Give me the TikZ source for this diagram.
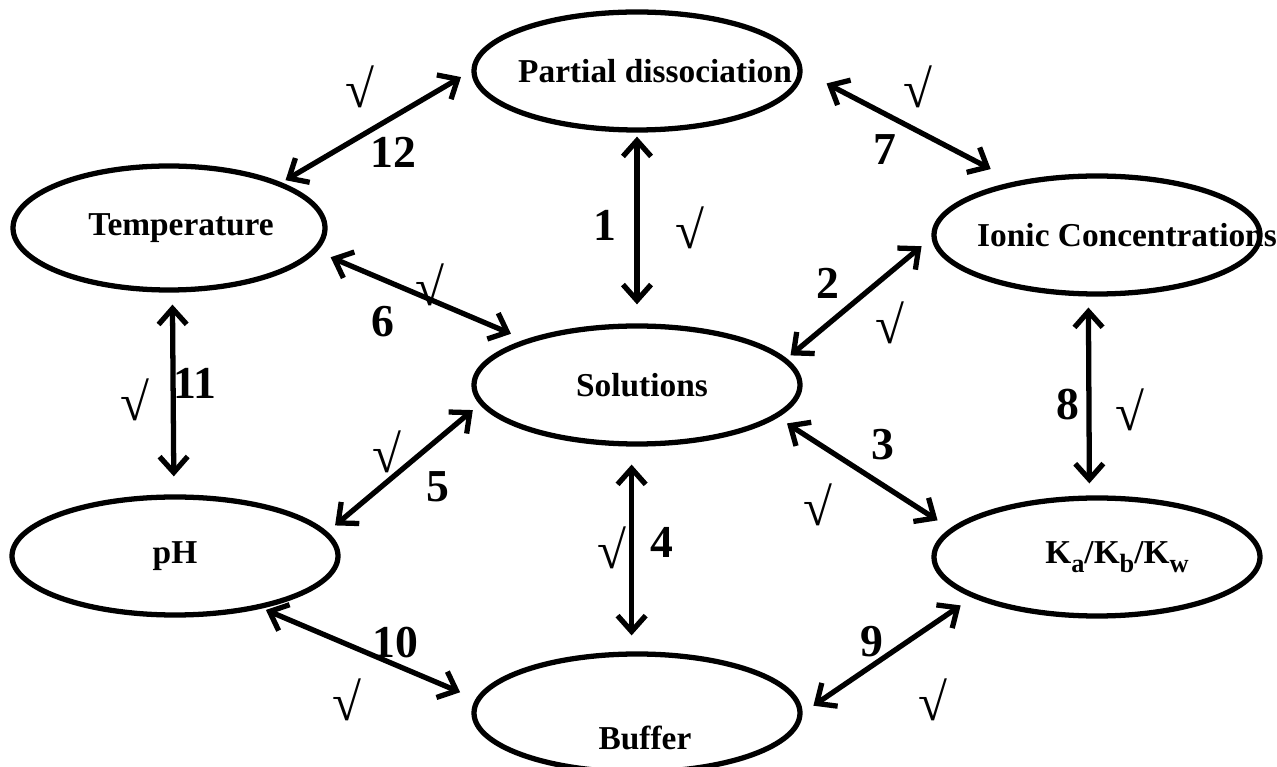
\documentclass[tikz,border=0pt]{standalone}
\usepackage{fontspec}
\setmainfont{Liberation Serif}
\usetikzlibrary{arrows.meta,shapes.geometric}
\newcommand{\lowsub}[1]{\raisebox{-5pt}{\fontsize{15}{15}\selectfont #1}}

\begin{document}
\begin{tikzpicture}[bubble/.style={draw,ellipse,line width=3pt,minimum width=6.52cm,minimum height=2.36cm,inner sep=0pt},every label/.style={font=\fontsize{19}{21}\selectfont\bfseries},link/.style={{Straight Barb[length=9pt,width=16pt]}-{Straight Barb[length=9pt,width=16pt]},line width=3pt},num/.style={font=\fontsize{26}{28}\selectfont\bfseries},tick/.style={font=\fontsize{30}{32}\selectfont}]
\useasboundingbox (0,0) rectangle (25.54,-15.34);
\node[bubble,label={[xshift=0.36cm]center:Partial dissociation}] (part) at (12.74,-1.42){};
\node[bubble,minimum width=6.24cm,minimum height=2.48cm,label={[xshift=0.24cm]center:Temperature}] (temp) at (3.38,-4.56){};
\node[bubble,label={[xshift=0.6cm]center:Ionic Concentrations}] (ionic) at (21.94,-4.70){};
\node[bubble,label={[xshift=0.1cm]center:Solutions}] (sol) at (12.74,-7.70){};
\node[bubble,label={center:pH}] (ph) at (3.50,-11.12){};
\node[bubble,label={[xshift=0.4cm]center:K\lowsub{a}/K\lowsub{b}/K\lowsub{w}}] (ka) at (21.94,-11.14){};
\node[bubble,label={[xshift=0.16cm,yshift=-0.5cm]center:Buffer}] (buf) at (12.74,-14.26){};
\draw[link,shorten <=0.08cm,shorten >=0.38cm] (part.-90) -- (sol.90);
\draw[link,shorten <=0.26cm,shorten >=0.1cm] (ionic.181) -- (sol.10.6);
\draw[link,shorten <=0.22cm,shorten >=0.3cm] (sol.-13.3) -- (ka.169.7);
\draw[link,shorten <=0.36cm,shorten >=0.32cm] (sol.-95) -- (buf.95.6);
\draw[link,shorten <=0.18cm,shorten >=0.2cm] (sol.187.7) -- (ph.9.5);
\draw[link,shorten <=0.3cm,shorten >=0.3cm] (temp.-9) -- (sol.158);
\draw[link,shorten <=0.54cm,shorten >=0.54cm] (part.0) -- (ionic.147);
\draw[link,shorten <=0.22cm,shorten >=0.24cm] (ionic.-98.4) -- (ka.97.9);
\draw[link,shorten <=0.28cm,shorten >=0.26cm] (ka.198.7) -- (buf.0.3);
\draw[link,shorten <=0.08cm,shorten >=0.34cm] (ph.-31) -- (buf.175.1);
\draw[link,shorten <=0.24cm,shorten >=0.36cm] (temp.-87) -- (ph.91.4);
\draw[link,shorten <=0.24cm,shorten >=0.09cm] (part.180) -- (temp.22.2);
% numbers on the links
\node[num] (n1) at (12.1,-4.5){1};\node[num] (n2) at (16.56,-5.66){2};\node[num] (n3) at (17.66,-8.9){3};\node[num] (n4) at (13.24,-10.84){4};
\node[num] (n5) at (8.76,-9.74){5};\node[num] (n6) at (7.66,-6.44){6};\node[num] (n7) at (17.7,-3.0){7};\node[num] (n8) at (21.36,-8.1){8};
\node[num] (n9) at (17.44,-12.84){9};\node[num] (n10) at (7.9,-12.86){10};\node[num] (n11) at (3.9,-7.66){11};\node[num] (n12) at (7.86,-3.04){12};
% ticks
\node[tick] (t1) at (13.8,-4.56){√};\node[tick] (t2) at (17.8,-6.46){√};\node[tick] (t3) at (16.36,-10.1){√};\node[tick] (t4) at (12.24,-10.96){√};
\node[tick] (t5) at (7.74,-9.04){√};\node[tick] (t6) at (8.6,-5.7){√};\node[tick] (t7) at (18.36,-1.74){√};\node[tick] (t8) at (22.6,-8.2){√};
\node[tick] (t9) at (18.66,-14.0){√};\node[tick] (t10) at (6.94,-14.0){√};\node[tick] (t11) at (2.7,-8.0){√};\node[tick] (t12) at (7.2,-1.74){√};
\end{tikzpicture}
\end{document}
